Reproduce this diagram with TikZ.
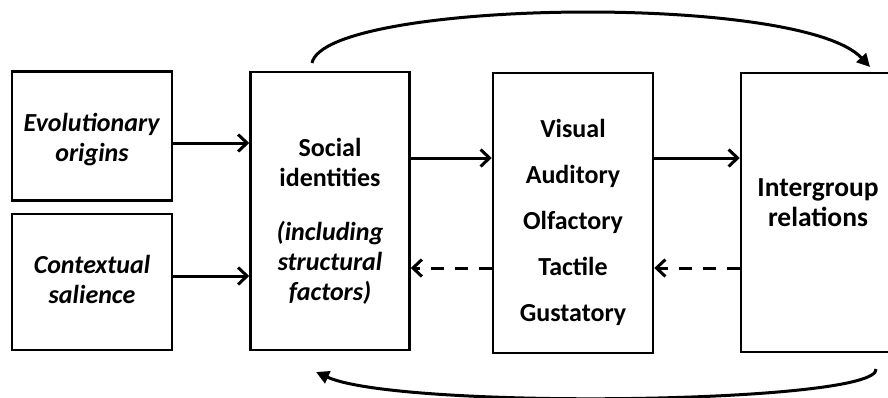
\documentclass[tikz,border=0pt]{standalone}
\usepackage{fontspec}
\setmainfont{Carlito}
\usetikzlibrary{arrows.meta}
\begin{document}
\begin{tikzpicture}[x=1pt,y=-1pt]
\tikzstyle{box} = [rectangle, draw=black, line width=2.5pt, inner sep=0pt]
\tikzstyle{txt} = [align=center, font=\fontsize{26}{30}\selectfont\bfseries]
\tikzstyle{flow} = [draw=black, line width=3pt, -{Straight Barb[length=9pt,width=17pt]}]
\tikzstyle{back} = [flow, dash pattern=on 13pt off 11pt]
\tikzstyle{loop} = [draw=black, line width=3pt, -{Triangle[length=13pt,width=13pt]}]

\useasboundingbox (0,0) rectangle (888,397);
\clip (0,0) rectangle (888,397);

\node[box, minimum width=160pt, minimum height=129pt] (evo) at (92,136) {};
\node[box, minimum width=160pt, minimum height=136pt] (ctx) at (92,282) {};
\node[box, minimum width=159pt, minimum height=278pt] (social) at (330,211) {};
\node[box, minimum width=160pt, minimum height=280pt] (senses) at (573,213) {};
\node[box, minimum width=154pt, minimum height=279pt] (inter) at (818,212.5) {};

\node[txt] (evo-t) at (92,140) {\textit{Evolutionary}\\\textit{origins}};
\node[txt] (ctx-t) at (92,279) {\textit{Contextual}\\\textit{salience}};
\node[txt] (social-t) at (330,221) {Social\\identities\\[24pt]\textit{(including}\\\textit{structural}\\\textit{factors)}};
\node[txt, font=\fontsize{26}{46}\selectfont\bfseries] (senses-t) at (573,222) {Visual\\Auditory\\Olfactory\\Tactile\\Gustatory};
\node[txt, font=\fontsize{27.5}{30}\selectfont\bfseries] (inter-t) at (818,202.5) {Intergroup\\relations};

\coordinate (top-a) at (312,63);
\coordinate (top-b) at (870,67);
\coordinate (bot-a) at (876,369);
\coordinate (bot-b) at (316,372);

\draw[flow] ([yshift=-7pt]evo.east) -- ([yshift=-7pt]evo.east -| social.west);
\draw[flow] ([yshift=6pt]ctx.east) -- ([yshift=6pt]ctx.east -| social.west);
\draw[flow] ([yshift=53pt]social.east) -- ([yshift=53pt]social.east -| senses.west);
\draw[flow] ([yshift=55pt]senses.east) -- ([yshift=55pt]senses.east -| inter.west);
\draw[back] ([yshift=-55pt]senses.west) -- ([yshift=-55pt]senses.west -| social.east);
\draw[back] ([yshift=-55.5pt]inter.west) -- ([yshift=-55.5pt]inter.west -| senses.east);

\draw[loop] (top-a) .. controls (325,0) and (800,-8) .. (top-b);
\draw[loop] (bot-a) .. controls (880,404) and (400,410) .. (bot-b);
\end{tikzpicture}
\end{document}
